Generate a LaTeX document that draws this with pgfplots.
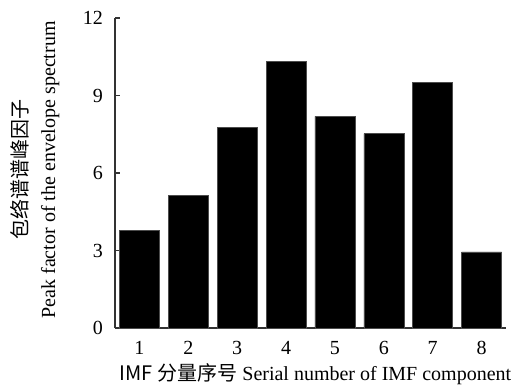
\documentclass[border=0pt]{standalone}
\usepackage{pgfplots}
\pgfplotsset{compat=1.18}
\usepackage{fontspec}
\setmainfont{Liberation Serif}
\newfontfamily\cjk{Noto Sans CJK SC}
\begin{document}
\begin{tikzpicture}
\begin{axis}[
  scale only axis,
  width=391pt, height=310pt,
  xmin=0.5, xmax=8.5,
  ymin=0, ymax=12,
  ytick={0,3,6,9,12},
  xtick={1,2,3,4,5,6,7,8},
  axis x line*=bottom,
  axis y line*=left,
  axis line style={line width=1.1pt, draw=black!80, -},
  tick align=inside,
  major tick length=5pt,
  x tick style={draw=none},
  y tick style={line width=1.1pt, black!80},
  tick label style={font=\fontsize{20}{24}\selectfont},
  yticklabel style={anchor=east, xshift=-8.5pt},
  xticklabel style={anchor=base, yshift=-21pt},
  /pgf/number format/assume math mode=true,
  xlabel={{\cjk IMF 分量序号} Serial number of IMF component},
  xlabel style={font=\fontsize{20}{24}\selectfont, at={(axis description cs:0.5,0)}, anchor=base, yshift=-52pt, xshift=5pt},
  ylabel={{\cjk 包络谱谱峰因子}\\Peak factor of the envelope spectrum},
  ylabel style={font=\fontsize{20}{28}\selectfont, align=center, at={(axis description cs:-0.133,0.51)}, anchor=south},
  ybar, bar width=0.82,
  clip=false,
]
\addplot[fill=black, draw=black!70, line width=0.5pt] coordinates {
(1,3.77) (2,5.13) (3,7.78) (4,10.33) (5,8.19) (6,7.52) (7,9.52) (8,2.95)};
\coordinate (tl) at (rel axis cs:0,1);
\coordinate (br) at (rel axis cs:1,0);
\end{axis}
\pgfresetboundingbox
\path ([xshift=-115pt,yshift=18pt]tl) rectangle ([xshift=15pt,yshift=-57pt]br);
\end{tikzpicture}
\end{document}
